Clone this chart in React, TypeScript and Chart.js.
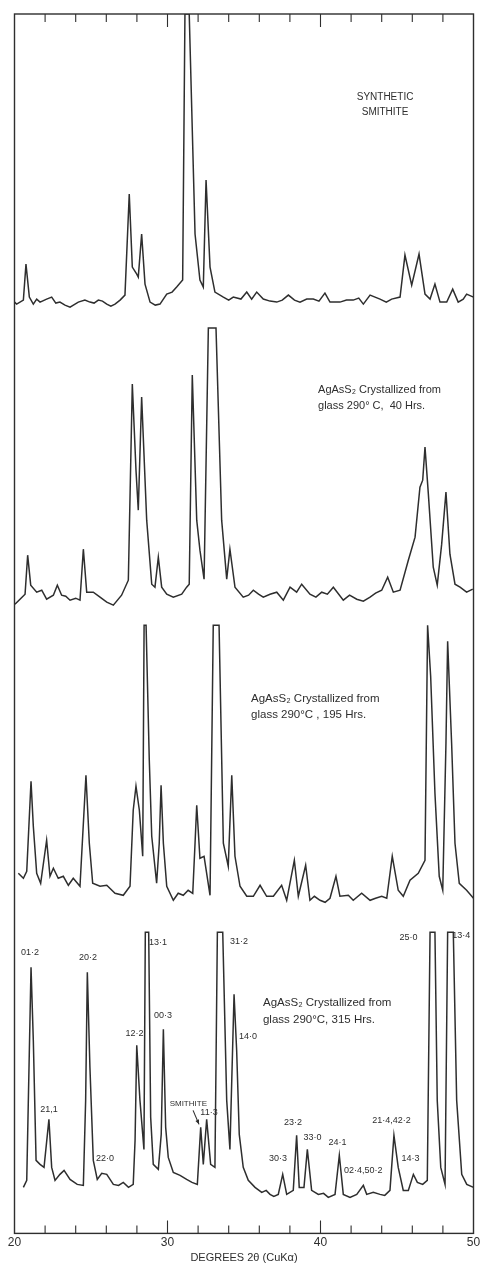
import React, { useEffect, useRef } from 'react';
import { Chart, registerables } from 'chart.js';

Chart.register(...registerables);

// ---------- DATA ----------
// Each trace: [2θ degrees, recorded intensity above its own baseline]; 999 = pen off scale
const TRACE_SYNTHETIC: [number, number][] = [
  [20.0, 0], [20.14, -2], [20.58, 2], [20.75, 38], [20.97, 5], [21.23, -2], [21.45, 3], [21.67, 0], [22.1, 3],
  [22.43, 5], [22.7, -1], [22.97, 0], [23.3, -3], [23.63, -5], [24.17, 0], [24.6, 2], [24.93, 0], [25.2, -1], [25.48, 2],
  [25.75, 1], [26.03, -2], [26.3, -4], [26.57, -2], [26.9, 2], [27.22, 7], [27.5, 108], [27.7, 35], [27.99, 28], [28.09, 25], [28.31, 68],
  [28.53, 18], [28.86, 0], [29.2, -3], [29.51, -2], [29.95, 8], [30.3, 10], [30.6, 15], [30.99, 22], [31.14, 999], [31.42, 999],
  [31.8, 68], [32.12, 22], [32.34, 15], [32.52, 122], [32.78, 35], [33.1, 10], [33.65, 5], [34.0, 2], [34.3, 5],
  [34.8, 3], [35.18, 10], [35.5, 3], [35.83, 10], [36.26, 3], [36.7, 1], [37.14, 0], [37.5, 2], [37.9, 7],
  [38.3, 2], [38.66, 0], [39.1, 3], [39.53, 3], [39.9, 1], [40.29, 9], [40.62, 0], [41.27, 0], [41.7, 2],
  [42.14, 2], [42.5, 4], [42.8, -2], [43.24, 7], [43.89, 3], [44.3, 0], [44.65, 3], [45.2, 5], [45.52, 47], [45.96, 17],
  [46.44, 48], [46.83, 8], [47.16, 3], [47.48, 18], [47.81, 0], [48.25, 0], [48.64, 13], [49.0, 0],
  [49.33, 3], [49.55, 8], [50.0, 5],
];

const TRACE_40H: [number, number][] = [
  [20.03, -7], [20.36, -2], [20.69, 3], [20.86, 42], [21.06, 12], [21.45, 5], [21.78, 7], [22.1, -2],
  [22.54, 2], [22.8, 12], [23.08, 2], [23.35, 1], [23.63, -3], [24.0, -1], [24.28, -3], [24.5, 48], [24.72, 5],
  [25.15, 5], [25.59, 0], [26.03, -5], [26.46, -8], [27.0, 2], [27.44, 17], [27.7, 213], [27.94, 127],
  [28.09, 87], [28.31, 200], [28.64, 77], [28.97, 13], [29.18, 10], [29.4, 40], [29.62, 10], [29.95, 3],
  [30.38, 0], [30.93, 3], [31.25, 10], [31.42, 13], [31.62, 222], [31.91, 77], [32.12, 47], [32.39, 18],
  [32.67, 999], [33.17, 999], [33.54, 77], [33.87, 18], [34.08, 48], [34.41, 10], [34.95, 0], [35.3, 2], [35.61, 7],
  [35.95, 3], [36.26, 0], [36.7, 3], [37.14, 5], [37.57, -3], [38.01, 10], [38.44, 5], [38.77, 13], [39.31, 3],
  [39.7, 0], [40.08, 5], [40.45, 3], [40.84, 10], [41.49, -3], [41.9, 2], [42.37, -2], [42.8, -4], [43.24, 0], [43.6, 4],
  [44.0, 7], [44.39, 20], [44.76, 5],
  [45.2, 7], [45.74, 37], [46.18, 60], [46.5, 110], [46.68, 117], [46.83, 150], [47.05, 103], [47.37, 30],
  [47.63, 12], [47.92, 53], [48.2, 105], [48.46, 43], [48.79, 13], [49.12, 10], [49.55, 5], [49.95, 8],
];

const TRACE_195H: [number, number][] = [
  [20.25, 20], [20.58, 15], [20.8, 22], [21.08, 112], [21.23, 67], [21.45, 20], [21.71, 10], [22.1, 53],
  [22.32, 17], [22.54, 25], [22.86, 15], [23.19, 17], [23.52, 8], [23.84, 15], [24.28, 7], [24.67, 118],
  [24.89, 50], [25.11, 10], [25.59, 7], [26.03, 8], [26.57, 0], [27.11, -2], [27.55, 7], [27.76, 83],
  [27.94, 107], [28.16, 83], [28.38, 37], [28.47, 999], [28.6, 999], [28.81, 133], [28.97, 57], [29.29, 10],
  [29.46, 50], [29.58, 108], [29.73, 50], [29.95, 7], [30.38, -7], [30.7, 0], [31.03, -2], [31.35, 3], [31.65, 0], [31.8, 50],
  [31.91, 88], [32.12, 35], [32.39, 37], [32.78, -2], [32.99, 999], [33.37, 999], [33.65, 50], [33.97, 27],
  [34.2, 118], [34.41, 37], [34.74, 7], [35.18, -3], [35.61, -3], [36.05, 8], [36.48, -3], [36.92, -3],
  [37.46, 8], [37.79, -7], [38.29, 33], [38.55, -3], [39.03, 28], [39.31, -7], [39.6, -3], [39.97, -7], [40.3, -9], [40.62, -5],
  [41.01, 17], [41.27, -3], [41.82, -2], [42.14, -7], [42.69, 0], [43.24, -7], [43.6, -5], [44.0, -3], [44.33, -5], [44.69, 37],
  [45.08, 3], [45.41, -3], [45.85, 13], [46.39, 20], [46.83, 33], [47.0, 999], [47.2, 217], [47.48, 100],
  [47.76, 17], [47.99, 3], [48.2, 150], [48.31, 252], [48.57, 150], [48.79, 50], [49.07, 10], [49.55, 3],
  [50.0, -5],
];

const TRACE_315H: [number, number][] = [
  [20.58, 0], [20.8, 7], [21.08, 220], [21.23, 147], [21.41, 27], [21.67, 23], [21.93, 20], [22.25, 68],
  [22.43, 20], [22.65, 7], [22.97, 13], [23.24, 17], [23.63, 8], [24.1, 3], [24.5, 2], [24.65, 87],
  [24.76, 215], [24.93, 120], [25.15, 27], [25.41, 8], [25.7, 14], [26.03, 13], [26.46, 3], [26.8, 2], [27.11, 5],
  [27.45, 0], [27.76, 3], [27.88, 47], [27.99, 142], [28.2, 87], [28.46, 38], [28.55, 999], [28.77, 999], [28.9, 70],
  [29.07, 23], [29.4, 18], [29.59, 53], [29.73, 158], [29.88, 60], [30.05, 30], [30.38, 15], [30.82, 12],
  [31.25, 8], [31.6, 5], [31.95, 3], [32.17, 60], [32.34, 23], [32.56, 68], [32.82, 23], [33.1, 20], [33.26, 999],
  [33.61, 999], [33.87, 87], [34.08, 38], [34.35, 193], [34.52, 137], [34.69, 53], [34.95, 20], [35.28, 7],
  [35.72, 0], [36.16, -5], [36.45, -3], [36.7, -7], [36.95, -9], [37.24, -7], [37.53, 13], [37.79, -7], [38.22, -3], [38.44, 52],
  [38.61, 0], [38.92, 0], [39.14, 38], [39.42, -3], [39.86, -7], [40.2, -6], [40.51, -10], [40.95, -7], [41.23, 32],
  [41.49, -7], [41.93, -10], [42.37, -7], [42.8, 2], [43.02, -7], [43.45, -5], [43.89, -7], [44.2, -8], [44.54, -3], [44.8, 52],
  [45.08, 20], [45.41, -3], [45.74, -3], [46.07, 13], [46.33, 5], [46.68, 3], [46.98, 7], [47.16, 999],
  [47.48, 999], [47.63, 87], [47.86, 20], [48.14, 3], [48.31, 999], [48.68, 999], [48.9, 87], [49.23, 13],
  [49.56, 3], [50.0, 0],
];

const TRACES = [TRACE_SYNTHETIC, TRACE_40H, TRACE_195H, TRACE_315H];
const TRACE_NAMES = ['Synthetic smithite', '290°C, 40 Hrs.', '290°C, 195 Hrs.', '290°C, 315 Hrs.'];

const X_MIN = 20;
const X_MAX = 50;
const X_TICK_VALUES = [20, 22, 24, 26, 28, 30, 32, 34, 36, 38, 40, 42, 44, 46, 48, 50];
const X_LABELLED = [20, 30, 40, 50];
const X_MAJOR = [30, 40];
const X_TITLE = 'DEGREES 2θ (CuKα)';

// Peak indexing labels on the 315 Hrs. trace: [text, 2θ, height above baseline]
const PEAK_LABELS: [string, number, number][] = [
  ['01·2', 21.01, 235], ['20·2', 24.8, 230], ['21,1', 22.25, 78], ['22·0', 25.92, 29],
  ['12·2', 27.85, 154], ['13·1', 29.38, 245], ['00·3', 29.71, 172], ['11·3', 32.71, 75],
  ['31·2', 34.67, 246], ['14·0', 35.26, 151], ['30·3', 37.22, 29], ['23·2', 38.2, 65],
  ['33·0', 39.48, 50], ['24·1', 41.11, 45], ['02·4,50·2', 42.8, 17], ['21·4,42·2', 44.64, 67],
  ['14·3', 45.88, 29], ['25·0', 45.75, 250], ['13·4', 49.2, 252],
];

// ---------- LAYOUT / STYLE ----------
const Y_MAX = 1219;
const TRACE_OFFSETS = [931, 636, 340, 46];
const TRACE_FULL_SCALE = [288, 269, 268, 255];
const INK = '#2e2e2e';
const FONT = '"Liberation Sans", Arial, sans-serif';

type TitleBlock = { trace: number; x: number; h: number[]; lines: string[]; size: number; align: CanvasTextAlign };
const TRACE_TITLES: TitleBlock[] = [
  { trace: 0, x: 44.22, h: [205, 190], lines: ['SYNTHETIC', 'SMITHITE'], size: 10, align: 'center' },
  { trace: 1, x: 39.84, h: [207, 191], lines: ['AgAsS₂ Crystallized from', 'glass 290° C,  40 Hrs.'], size: 11, align: 'left' },
  { trace: 2, x: 35.46, h: [194, 178], lines: ['AgAsS₂ Crystallized from', 'glass 290°C , 195 Hrs.'], size: 11.5, align: 'left' },
  { trace: 3, x: 36.24, h: [184, 168], lines: ['AgAsS₂ Crystallized from', 'glass 290°C, 315 Hrs.'], size: 11.5, align: 'left' },
];

const decorPlugin = {
  id: 'xrdDecor',
  afterDraw(chart: any) {
    const { ctx, chartArea: a, scales } = chart;
    const xs = scales.x;
    const ys = scales.y;
    const px = (v: number) => xs.getPixelForValue(v);
    const py = (trace: number, h: number) => ys.getPixelForValue(TRACE_OFFSETS[trace] + h);
    ctx.save();
    // frame
    ctx.strokeStyle = INK;
    ctx.lineWidth = 1.4;
    ctx.strokeRect(a.left, a.top, a.right - a.left, a.bottom - a.top);
    // inward tick marks, top and bottom
    ctx.lineWidth = 1.1;
    X_TICK_VALUES.forEach((v) => {
      if (v === X_MIN || v === X_MAX) return;
      const x = px(v);
      const len = X_MAJOR.includes(v) ? 13 : 8;
      ctx.beginPath();
      ctx.moveTo(x, a.bottom);
      ctx.lineTo(x, a.bottom - len);
      ctx.moveTo(x, a.top);
      ctx.lineTo(x, a.top + len);
      ctx.stroke();
    });
    // trace titles
    ctx.fillStyle = INK;
    ctx.textBaseline = 'middle';
    TRACE_TITLES.forEach((t) => {
      ctx.font = `${t.size}px ${FONT}`;
      ctx.textAlign = t.align;
      t.lines.forEach((line, i) => ctx.fillText(line, px(t.x), py(t.trace, t.h[i])));
    });
    // peak labels
    ctx.font = `9px ${FONT}`;
    ctx.textAlign = 'center';
    PEAK_LABELS.forEach(([txt, x, h]) => ctx.fillText(txt, px(x), py(3, h)));
    // smithite marker
    ctx.font = `8px ${FONT}`;
    ctx.fillText('SMITHITE', px(31.36), py(3, 84));
    const x1 = px(31.67), y1 = py(3, 77), x2 = px(32.06), y2 = py(3, 63);
    ctx.beginPath();
    ctx.moveTo(x1, y1);
    ctx.lineTo(x2, y2);
    ctx.stroke();
    const ang = Math.atan2(y2 - y1, x2 - x1);
    ctx.beginPath();
    ctx.moveTo(x2, y2);
    ctx.lineTo(x2 - 5 * Math.cos(ang - 0.4), y2 - 5 * Math.sin(ang - 0.4));
    ctx.lineTo(x2 - 5 * Math.cos(ang + 0.4), y2 - 5 * Math.sin(ang + 0.4));
    ctx.closePath();
    ctx.fill();
    ctx.restore();
  },
};

export default function App() {
  const ref = useRef<HTMLCanvasElement | null>(null);
  useEffect(() => {
    if (!ref.current) return;
    const datasets = TRACES.map((pts, i) => ({
      label: TRACE_NAMES[i],
      data: pts.map(([x, h]) => ({ x, y: TRACE_OFFSETS[i] + Math.min(h, TRACE_FULL_SCALE[i]) })),
      borderColor: INK,
      borderWidth: 1.5,
      pointRadius: 0,
      tension: 0,
      fill: false,
    }));
    const chart = new Chart(ref.current, {
      type: 'line',
      data: { datasets },
      options: {
        animation: false,
        responsive: false,
        devicePixelRatio: 1,
        events: [],
        layout: { padding: { left: 14.5, right: 17.5, top: 14, bottom: 0 } },
        plugins: { legend: { display: false }, tooltip: { enabled: false } },
        scales: {
          x: {
            type: 'linear',
            min: X_MIN,
            max: X_MAX,
            afterBuildTicks: (scale: any) => {
              scale.ticks = X_TICK_VALUES.map((v) => ({ value: v }));
            },
            ticks: {
              autoSkip: false,
              maxRotation: 0,
              padding: 2,
              color: INK,
              font: { family: FONT, size: 12 },
              callback: (v: any) => (X_LABELLED.includes(Number(v)) ? String(v) : ''),
            },
            grid: { display: false, drawTicks: false },
            border: { display: false },
            title: {
              display: true,
              text: X_TITLE,
              color: INK,
              font: { family: FONT, size: 11 },
              padding: { top: 0, bottom: 5 },
            },
          },
          y: { type: 'linear', display: false, min: 0, max: Y_MAX },
        },
      },
      plugins: [decorPlugin],
    } as any);
    return () => chart.destroy();
  }, []);
  return (
    <div style={{ position: 'absolute', left: 0, top: 0, width: 491, height: 1270, background: '#fff' }}>
      <canvas ref={ref} width={491} height={1270} style={{ display: 'block', width: 491, height: 1270 }} />
    </div>
  );
}
